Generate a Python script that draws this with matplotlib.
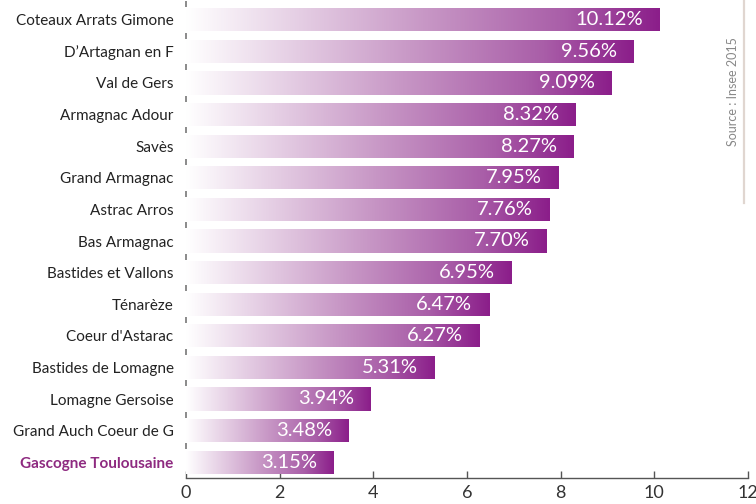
import matplotlib
matplotlib.use("Agg")
import matplotlib.pyplot as plt
import numpy as np
from matplotlib.colors import LinearSegmentedColormap
from matplotlib.lines import Line2D

categories = ["Coteaux Arrats Gimone", "D’Artagnan en F", "Val de Gers", "Armagnac Adour",
              "Savès", "Grand Armagnac", "Astrac Arros", "Bas Armagnac", "Bastides et Vallons",
              "Ténarèze", "Coeur d'Astarac", "Bastides de Lomagne", "Lomagne Gersoise",
              "Grand Auch Coeur de G", "Gascogne Toulousaine"]
values = [10.12, 9.56, 9.09, 8.32, 8.27, 7.95, 7.76, 7.70, 6.95, 6.47, 6.27, 5.31, 3.94, 3.48, 3.15]
labels = ["10.12%", "9.56%", "9.09%", "8.32%", "8.27%", "7.95%", "7.76%", "7.70%", "6.95%",
          "6.47%", "6.27%", "5.31%", "3.94%", "3.48%", "3.15%"]
xticks = [0, 2, 4, 6, 8, 10, 12]
highlight = "Gascogne Toulousaine"

fig = plt.figure(figsize=(7.56, 5.04), dpi=100)
ax = fig.add_axes([186/756, 1-478/504, (748-186)/756, (478-4)/504])

cmap = LinearSegmentedColormap.from_list(
    "grad", [(0.0, "#ffffff"), (0.5, "#c898c6"), (0.8, "#a95ea8"), (1.0, "#8b1e8a")])

y = np.arange(len(categories))
bars = ax.barh(y, values, height=0.73, color="none", edgecolor="none")
grad = np.linspace(0, 1, 256).reshape(1, -1)
for b in bars:
    x0, y0, w, h = b.get_x(), b.get_y(), b.get_width(), b.get_height()
    im = ax.imshow(grad, cmap=cmap, aspect="auto", extent=[x0, x0 + w, y0 + h, y0],
                   interpolation="bicubic", zorder=2)
    im.set_clip_path(b)

for yi, v, lab in zip(y, values, labels):
    ax.annotate(lab, xy=(v, yi), xytext=(-12, 0), textcoords="offset points",
                ha="right", va="center", color="white", fontsize=14.5, family="Lato", zorder=3)

ax.set_xlim(0, 12)
ax.set_ylim(len(categories) - 0.5, -0.5)
ax.set_yticks(y)
ax.set_yticklabels(categories, fontsize=11, family="Lato", color="#222222")
for t in ax.get_yticklabels():
    if t.get_text() == highlight:
        t.set_color("#8e2a80")
        t.set_fontweight("bold")
ax.tick_params(axis="y", length=0, pad=9)
ax.set_xticks(xticks)
ax.set_xticklabels([str(t) for t in xticks], fontsize=13, family="Lato", color="#333333")
ax.tick_params(axis="x", direction="in", length=5, width=1, color="#555555", pad=5)

for s in ["top", "right", "left"]:
    ax.spines[s].set_visible(False)
ax.spines["bottom"].set_color("#555555")
ax.spines["bottom"].set_linewidth(1)

bounds = np.arange(len(categories)) - 0.5
ax.plot(np.zeros_like(bounds), bounds, linestyle="none", marker="|", markersize=4,
        color="#777777", markeredgewidth=1.2, clip_on=False, zorder=4)

fig.text(733/756, 1-92/504, "Source : Insee 2015", rotation=90, ha="center", va="center",
         fontsize=9, family="Lato", color="#888888")
fig.add_artist(Line2D([744/756, 744/756], [1.0, 1-203/504], color="#e0d6d0", linewidth=1.6,
                      transform=fig.transFigure))

fig.savefig("out.png", dpi=100)
